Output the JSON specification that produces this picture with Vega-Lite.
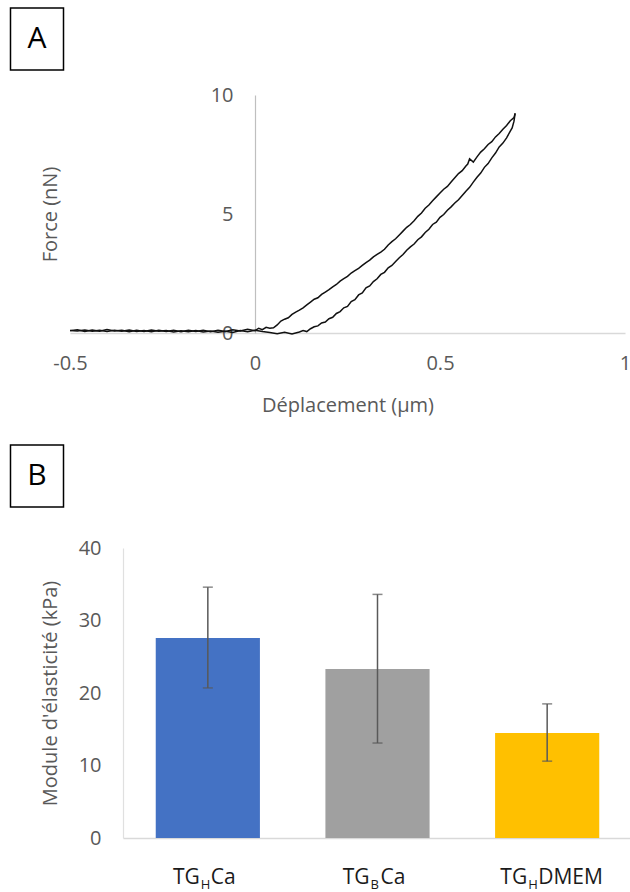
{
  "$schema": "https://vega.github.io/schema/vega-lite/v6.json",
  "width": 630,
  "height": 892,
  "autosize": "none",
  "padding": 0,
  "background": "white",
  "config": {
    "view": {"stroke": null},
    "font": "Open Sans",
    "axis": {"labelFont": "Open Sans", "titleFont": "Open Sans", "grid": false, "ticks": false, "labelFlush": false, "labelBound": false, "labelOverlap": false}
  },
  "resolve": {
    "scale": {"x": "independent", "y": "independent"},
    "axis": {"x": "independent", "y": "independent"}
  },
  "layer": [
    {
      "data": {"values": [
        {"s":"a","x":-0.5,"y":0.10},{"s":"a","x":-0.48,"y":0.14},{"s":"a","x":-0.46,"y":0.06},{"s":"a","x":-0.44,"y":0.13},{"s":"a","x":-0.42,"y":0.07},{"s":"a","x":-0.40,"y":0.15},{"s":"a","x":-0.38,"y":0.08},{"s":"a","x":-0.36,"y":0.12},{"s":"a","x":-0.34,"y":0.05},{"s":"a","x":-0.32,"y":0.11},{"s":"a","x":-0.30,"y":0.06},{"s":"a","x":-0.28,"y":0.13},{"s":"a","x":-0.26,"y":0.07},{"s":"a","x":-0.24,"y":0.10},{"s":"a","x":-0.22,"y":0.04},{"s":"a","x":-0.20,"y":0.09},{"s":"a","x":-0.18,"y":0.05},{"s":"a","x":-0.16,"y":0.10},{"s":"a","x":-0.14,"y":0.04},{"s":"a","x":-0.12,"y":0.08},{"s":"a","x":-0.10,"y":0.03},{"s":"a","x":-0.08,"y":0.07},{"s":"a","x":-0.06,"y":0.02},{"s":"a","x":-0.04,"y":0.10},{"s":"a","x":-0.02,"y":0.05},{"s":"a","x":0.00,"y":0.12},{"s":"a","x":0.02,"y":0.06},{"s":"a","x":0.04,"y":0.02},{"s":"a","x":0.06,"y":-0.03},{"s":"a","x":0.08,"y":0.03},{"s":"a","x":0.10,"y":-0.04},{"s":"a","x":0.12,"y":0.04},{"s":"a","x":0.13,"y":0.10},{"s":"a","x":0.14,"y":0.06},{"s":"a","x":0.15,"y":0.18},{"s":"a","x":0.16,"y":0.26},{"s":"a","x":0.17,"y":0.30},{"s":"a","x":0.18,"y":0.42},{"s":"a","x":0.19,"y":0.46},{"s":"a","x":0.20,"y":0.60},{"s":"a","x":0.21,"y":0.66},{"s":"a","x":0.22,"y":0.82},{"s":"a","x":0.23,"y":0.90},{"s":"a","x":0.24,"y":1.06},{"s":"a","x":0.25,"y":1.12},{"s":"a","x":0.26,"y":1.32},{"s":"a","x":0.27,"y":1.40},{"s":"a","x":0.28,"y":1.60},{"s":"a","x":0.29,"y":1.68},{"s":"a","x":0.30,"y":1.90},{"s":"a","x":0.31,"y":1.98},{"s":"a","x":0.32,"y":2.16},{"s":"a","x":0.33,"y":2.28},{"s":"a","x":0.34,"y":2.46},{"s":"a","x":0.35,"y":2.55},{"s":"a","x":0.36,"y":2.74},{"s":"a","x":0.37,"y":2.84},{"s":"a","x":0.38,"y":3.00},{"s":"a","x":0.39,"y":3.16},{"s":"a","x":0.40,"y":3.30},{"s":"a","x":0.41,"y":3.48},{"s":"a","x":0.42,"y":3.62},{"s":"a","x":0.43,"y":3.74},{"s":"a","x":0.44,"y":3.92},{"s":"a","x":0.45,"y":4.04},{"s":"a","x":0.46,"y":4.22},{"s":"a","x":0.47,"y":4.36},{"s":"a","x":0.48,"y":4.56},{"s":"a","x":0.49,"y":4.66},{"s":"a","x":0.50,"y":4.86},{"s":"a","x":0.51,"y":4.98},{"s":"a","x":0.52,"y":5.16},{"s":"a","x":0.53,"y":5.30},{"s":"a","x":0.54,"y":5.46},{"s":"a","x":0.55,"y":5.60},{"s":"a","x":0.56,"y":5.78},{"s":"a","x":0.57,"y":5.96},{"s":"a","x":0.58,"y":6.12},{"s":"a","x":0.59,"y":6.34},{"s":"a","x":0.60,"y":6.54},{"s":"a","x":0.61,"y":6.72},{"s":"a","x":0.62,"y":6.96},{"s":"a","x":0.63,"y":7.12},{"s":"a","x":0.64,"y":7.36},{"s":"a","x":0.65,"y":7.56},{"s":"a","x":0.66,"y":7.82},{"s":"a","x":0.67,"y":7.98},{"s":"a","x":0.68,"y":8.20},{"s":"a","x":0.69,"y":8.48},{"s":"a","x":0.695,"y":8.62},{"s":"a","x":0.70,"y":8.90},{"s":"a","x":0.703,"y":9.23},
        {"s":"b","x":0.703,"y":9.23},{"s":"b","x":0.70,"y":9.05},{"s":"b","x":0.69,"y":8.92},{"s":"b","x":0.68,"y":8.72},{"s":"b","x":0.67,"y":8.56},{"s":"b","x":0.66,"y":8.38},{"s":"b","x":0.65,"y":8.24},{"s":"b","x":0.64,"y":8.04},{"s":"b","x":0.63,"y":7.92},{"s":"b","x":0.62,"y":7.74},{"s":"b","x":0.61,"y":7.60},{"s":"b","x":0.60,"y":7.40},{"s":"b","x":0.59,"y":7.18},{"s":"b","x":0.58,"y":7.32},{"s":"b","x":0.575,"y":7.10},{"s":"b","x":0.57,"y":7.02},{"s":"b","x":0.56,"y":6.82},{"s":"b","x":0.55,"y":6.70},{"s":"b","x":0.54,"y":6.52},{"s":"b","x":0.53,"y":6.34},{"s":"b","x":0.52,"y":6.16},{"s":"b","x":0.51,"y":6.04},{"s":"b","x":0.50,"y":5.88},{"s":"b","x":0.49,"y":5.72},{"s":"b","x":0.48,"y":5.56},{"s":"b","x":0.47,"y":5.38},{"s":"b","x":0.46,"y":5.24},{"s":"b","x":0.45,"y":5.04},{"s":"b","x":0.44,"y":4.90},{"s":"b","x":0.43,"y":4.72},{"s":"b","x":0.42,"y":4.56},{"s":"b","x":0.41,"y":4.44},{"s":"b","x":0.40,"y":4.28},{"s":"b","x":0.39,"y":4.12},{"s":"b","x":0.38,"y":3.96},{"s":"b","x":0.37,"y":3.84},{"s":"b","x":0.36,"y":3.70},{"s":"b","x":0.35,"y":3.52},{"s":"b","x":0.34,"y":3.40},{"s":"b","x":0.33,"y":3.30},{"s":"b","x":0.32,"y":3.20},{"s":"b","x":0.31,"y":3.06},{"s":"b","x":0.30,"y":2.96},{"s":"b","x":0.29,"y":2.84},{"s":"b","x":0.28,"y":2.72},{"s":"b","x":0.27,"y":2.62},{"s":"b","x":0.26,"y":2.52},{"s":"b","x":0.25,"y":2.38},{"s":"b","x":0.24,"y":2.28},{"s":"b","x":0.23,"y":2.18},{"s":"b","x":0.22,"y":2.04},{"s":"b","x":0.21,"y":1.94},{"s":"b","x":0.20,"y":1.82},{"s":"b","x":0.19,"y":1.72},{"s":"b","x":0.18,"y":1.62},{"s":"b","x":0.17,"y":1.48},{"s":"b","x":0.16,"y":1.42},{"s":"b","x":0.15,"y":1.30},{"s":"b","x":0.14,"y":1.18},{"s":"b","x":0.13,"y":1.06},{"s":"b","x":0.12,"y":0.96},{"s":"b","x":0.11,"y":0.88},{"s":"b","x":0.10,"y":0.78},{"s":"b","x":0.09,"y":0.64},{"s":"b","x":0.08,"y":0.58},{"s":"b","x":0.07,"y":0.50},{"s":"b","x":0.06,"y":0.34},{"s":"b","x":0.05,"y":0.22},{"s":"b","x":0.04,"y":0.20},{"s":"b","x":0.03,"y":0.24},{"s":"b","x":0.02,"y":0.14},{"s":"b","x":0.01,"y":0.20},{"s":"b","x":0.00,"y":0.10},{"s":"b","x":-0.02,"y":0.16},{"s":"b","x":-0.04,"y":0.08},{"s":"b","x":-0.06,"y":0.14},{"s":"b","x":-0.08,"y":0.06},{"s":"b","x":-0.10,"y":0.12},{"s":"b","x":-0.12,"y":0.05},{"s":"b","x":-0.14,"y":0.11},{"s":"b","x":-0.16,"y":0.06},{"s":"b","x":-0.18,"y":0.12},{"s":"b","x":-0.20,"y":0.05},{"s":"b","x":-0.22,"y":0.11},{"s":"b","x":-0.24,"y":0.06},{"s":"b","x":-0.26,"y":0.12},{"s":"b","x":-0.28,"y":0.05},{"s":"b","x":-0.30,"y":0.10},{"s":"b","x":-0.32,"y":0.06},{"s":"b","x":-0.34,"y":0.13},{"s":"b","x":-0.36,"y":0.07},{"s":"b","x":-0.38,"y":0.12},{"s":"b","x":-0.40,"y":0.06},{"s":"b","x":-0.42,"y":0.11},{"s":"b","x":-0.44,"y":0.07},{"s":"b","x":-0.46,"y":0.13},{"s":"b","x":-0.48,"y":0.08},{"s":"b","x":-0.50,"y":0.11}
      ]},
      "mark": {"type": "line", "color": "#111111", "strokeWidth": 1.5},
      "encoding": {
        "x": {
          "field": "x", "type": "quantitative",
          "scale": {"domain": [-0.5, 1], "range": [70, 625], "nice": false, "zero": false},
          "axis": {
            "orient": "bottom", "offset": -559, "values": [-0.5, 0, 0.5, 1],
            "labelExpr": "datum.value < 0 ? '-' + format(-datum.value, '~g') : format(datum.value, '~g')",
            "domainColor": "#d9d9d9", "domainWidth": 1.5,
            "labelColor": "#595959", "labelFontSize": 20, "labelPadding": 20,
            "title": "Déplacement (µm)", "titleColor": "#595959", "titleFontSize": 20, "titleFontWeight": "normal",
            "titleY": 72, "titleBaseline": "middle"
          }
        },
        "y": {
          "field": "y", "type": "quantitative",
          "scale": {"domain": [0, 10], "range": [333, 95], "nice": false},
          "axis": {
            "orient": "left", "offset": -255, "values": [0, 5, 10],
            "domainColor": "#bfbfbf", "domainWidth": 1.2,
            "labelColor": "#595959", "labelFontSize": 20, "labelPadding": 22,
            "title": "Force (nN)", "titleColor": "#595959", "titleFontSize": 20, "titleFontWeight": "normal",
            "titleX": -205, "titleY": 214, "titleAngle": 270, "titleAlign": "center", "titleBaseline": "middle"
          }
        },
        "detail": {"field": "s"}
      }
    },
    {
      "data": {"values": [
        {"g": "TGHCa", "v": 27.6, "lo": 20.7, "hi": 34.6, "pre": "TG", "sub": "H", "suf": "Ca"},
        {"g": "TGBCa", "v": 23.3, "lo": 13.1, "hi": 33.6, "pre": "TG", "sub": "B", "suf": "Ca"},
        {"g": "TGHDMEM", "v": 14.5, "lo": 10.6, "hi": 18.5, "pre": "TG", "sub": "H", "suf": "DMEM"}
      ]},
      "encoding": {
        "x": {
          "field": "g", "type": "nominal", "sort": null,
          "scale": {"domain": ["TGHCa", "TGBCa", "TGHDMEM"], "range": [123, 632], "paddingInner": 0.386, "paddingOuter": 0.193},
          "axis": {"orient": "bottom", "offset": -54, "labels": false, "title": null, "domainColor": "#d9d9d9", "domainWidth": 1.5}
        }
      },
      "layer": [
        {
          "mark": {"type": "bar"},
          "encoding": {
            "y": {
              "field": "v", "type": "quantitative",
              "scale": {"domain": [0, 40], "range": [838, 548], "nice": false},
              "axis": {
                "orient": "left", "offset": -123, "values": [0, 10, 20, 30, 40],
                "domainColor": "#e0e0e0", "domainWidth": 1.2,
                "labelColor": "#595959", "labelFontSize": 20, "labelPadding": 22,
                "title": "Module d'élasticité (kPa)", "titleColor": "#595959", "titleFontSize": 20, "titleFontWeight": "normal",
                "titleX": -73, "titleY": 693, "titleAngle": 270, "titleAlign": "center", "titleBaseline": "middle"
              }
            },
            "color": {"field": "g", "type": "nominal", "scale": {"domain": ["TGHCa", "TGBCa", "TGHDMEM"], "range": ["#4472C4", "#A0A0A0", "#FFC000"]}, "legend": null}
          }
        },
        {
          "mark": {"type": "rule", "color": "#595959", "strokeWidth": 1.5},
          "encoding": {"y": {"field": "lo", "type": "quantitative"}, "y2": {"field": "hi"}}
        },
        {
          "mark": {"type": "tick", "color": "#595959", "thickness": 1.5, "size": 10},
          "encoding": {"y": {"field": "lo", "type": "quantitative"}}
        },
        {
          "mark": {"type": "tick", "color": "#595959", "thickness": 1.5, "size": 10},
          "encoding": {"y": {"field": "hi", "type": "quantitative"}}
        },
        {
          "transform": [{"filter": "datum.suf == 'Ca'"}],
          "layer": [
            {"mark": {"type": "text", "align": "right", "baseline": "alphabetic", "dx": -8, "dy": 46, "fontSize": 21, "color": "#1a1a1a"},
             "encoding": {"y": {"datum": 0, "type": "quantitative"}, "text": {"field": "pre"}}},
            {"mark": {"type": "text", "align": "left", "baseline": "alphabetic", "dx": -7, "dy": 51, "fontSize": 13, "color": "#1a1a1a"},
             "encoding": {"y": {"datum": 0, "type": "quantitative"}, "text": {"field": "sub"}}},
            {"mark": {"type": "text", "align": "left", "baseline": "alphabetic", "dx": 3, "dy": 46, "fontSize": 21, "color": "#1a1a1a"},
             "encoding": {"y": {"datum": 0, "type": "quantitative"}, "text": {"field": "suf"}}}
          ]
        },
        {
          "transform": [{"filter": "datum.suf == 'DMEM'"}],
          "layer": [
            {"mark": {"type": "text", "align": "right", "baseline": "alphabetic", "dx": -20, "dy": 46, "fontSize": 21, "color": "#1a1a1a"},
             "encoding": {"y": {"datum": 0, "type": "quantitative"}, "text": {"field": "pre"}}},
            {"mark": {"type": "text", "align": "left", "baseline": "alphabetic", "dx": -19, "dy": 51, "fontSize": 13, "color": "#1a1a1a"},
             "encoding": {"y": {"datum": 0, "type": "quantitative"}, "text": {"field": "sub"}}},
            {"mark": {"type": "text", "align": "left", "baseline": "alphabetic", "dx": -9, "dy": 46, "fontSize": 21, "color": "#1a1a1a"},
             "encoding": {"y": {"datum": 0, "type": "quantitative"}, "text": {"field": "suf"}}}
          ]
        }
      ]
    },
    {
      "data": {"values": [{"p": "A"}, {"p": "B"}]},
      "encoding": {
        "x": {"field": "p", "type": "nominal", "scale": {"type": "point", "domain": ["A", "B"], "range": [37, 37], "padding": 0}, "axis": null},
        "y": {"field": "p", "type": "nominal", "scale": {"type": "point", "domain": ["A", "B"], "range": [39, 476], "padding": 0}, "axis": null}
      },
      "layer": [
        {"mark": {"type": "point", "shape": "M-0.855,-1H0.855V1H-0.855Z", "size": 3844, "filled": false, "color": "#000000", "strokeWidth": 1.5, "opacity": 1}},
        {"mark": {"type": "text", "fontSize": 30, "align": "center", "baseline": "middle", "color": "#000000"}, "encoding": {"text": {"field": "p"}}}
      ]
    }
  ]
}
